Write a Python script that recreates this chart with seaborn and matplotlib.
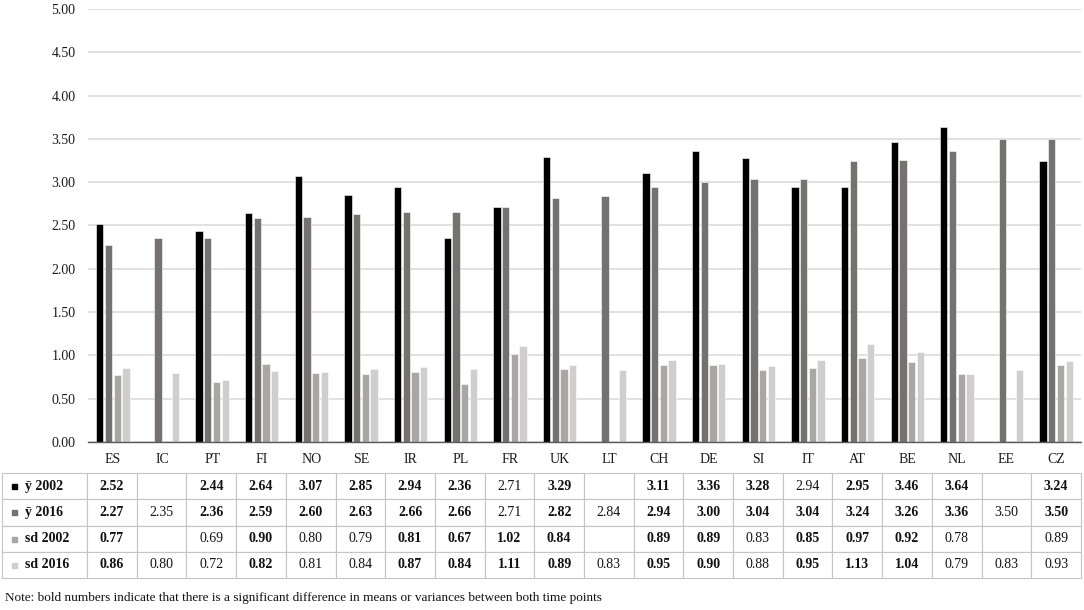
import numpy as np
import pandas as pd
import matplotlib
matplotlib.use("Agg")
import matplotlib.pyplot as plt
import seaborn as sns

countries = ["ES", "IC", "PT", "FI", "NO", "SE", "IR", "PL", "FR", "UK",
             "LT", "CH", "DE", "SI", "IT", "AT", "BE", "NL", "EE", "CZ"]
series = ["ȳ 2002", "ȳ 2016", "sd 2002", "sd 2016"]

mean_2002 = [2.52, None, 2.44, 2.64, 3.07, 2.85, 2.94, 2.36, 2.71, 3.29,
             None, 3.11, 3.36, 3.28, 2.94, 2.95, 3.46, 3.64, None, 3.24]
mean_2016 = [2.27, 2.35, 2.36, 2.59, 2.60, 2.63, 2.66, 2.66, 2.71, 2.82,
             2.84, 2.94, 3.00, 3.04, 3.04, 3.24, 3.26, 3.36, 3.50, 3.50]
sd_2002 = [0.77, None, 0.69, 0.90, 0.80, 0.79, 0.81, 0.67, 1.02, 0.84,
           None, 0.89, 0.89, 0.83, 0.85, 0.97, 0.92, 0.78, None, 0.89]
sd_2016 = [0.86, 0.80, 0.72, 0.82, 0.81, 0.84, 0.87, 0.84, 1.11, 0.89,
           0.83, 0.95, 0.90, 0.88, 0.95, 1.13, 1.04, 0.79, 0.83, 0.93]

# 1 = bold in the table (significant difference)
bold_mean_2002 = [1, 0, 1, 1, 1, 1, 1, 1, 0, 1, 0, 1, 1, 1, 0, 1, 1, 1, 0, 1]
bold_mean_2016 = [1, 0, 1, 1, 1, 1, 1, 1, 0, 1, 0, 1, 1, 1, 1, 1, 1, 1, 0, 1]
bold_sd_2002 = [1, 0, 0, 1, 0, 0, 1, 1, 1, 1, 0, 1, 1, 0, 1, 1, 1, 0, 0, 0]
bold_sd_2016 = [1, 0, 0, 1, 0, 0, 1, 1, 1, 1, 0, 1, 1, 0, 1, 1, 1, 0, 0, 0]

colors = ["#000000", "#75716f", "#aaa6a5", "#cfcdcd"]
note = ("Note: bold numbers indicate that there is a significant difference "
        "in means or variances between both time points")

all_values = [mean_2002, mean_2016, sd_2002, sd_2016]
all_bold = [bold_mean_2002, bold_mean_2016, bold_sd_2002, bold_sd_2016]

rows = []
for s, vals in zip(series, all_values):
    for c, v in zip(countries, vals):
        rows.append({"country": c, "series": s,
                     "value": np.nan if v is None else v})
df = pd.DataFrame(rows)

sns.set_style("white")
plt.rcParams["font.family"] = ["Liberation Serif", "DejaVu Serif"]

fig = plt.figure(figsize=(10.84, 6.10), dpi=100)
W, H = 1084, 610
ax = fig.add_axes([88 / W, 1 - 442 / H, 993 / W, 433 / H])

sns.barplot(data=df, x="country", y="value", hue="series",
            order=countries, hue_order=series, palette=colors,
            width=0.7, gap=0.16, edgecolor="white", linewidth=0.4,
            legend=False, ax=ax)

ax.set_ylim(0, 5)
ax.set_xlim(-0.5, len(countries) - 0.5)
ax.set_yticks(np.arange(0, 5.01, 0.5))
ax.set_yticklabels([f"{t:.2f}" for t in np.arange(0, 5.01, 0.5)])
ax.yaxis.grid(True, color="#dcdcdc", linewidth=1.2)
ax.set_axisbelow(True)
ax.tick_params(axis="y", length=0, pad=9, labelsize=10, colors="#1a1a1a")
ax.tick_params(axis="x", length=0, pad=8, labelsize=10, colors="#1a1a1a")
ax.set_xlabel("")
ax.set_ylabel("")
for side in ["left", "right", "top"]:
    ax.spines[side].set_visible(False)
ax.spines["bottom"].set_color("#595959")
ax.spines["bottom"].set_linewidth(1.0)

# data table under the chart
cell_text = []
for s, vals in zip(series, all_values):
    cell_text.append([s] + ["" if v is None else f"{v:.2f}" for v in vals])

tab_left = (2 - 88) / 993
tab_top = (442 - 473) / 433
tab_bottom = (442 - 578) / 433
tab = ax.table(cellText=cell_text, cellLoc="center",
               bbox=[tab_left, tab_bottom, 1 - tab_left, tab_top - tab_bottom])
tab.auto_set_font_size(False)
tab.set_fontsize(10)
first_w = 85 / 1079
other_w = (1 - first_w) / len(countries)
for (r, c), cell in tab.get_celld().items():
    cell.set_edgecolor("#c4c4c4")
    cell.set_linewidth(0.8)
    cell.set_width(first_w if c == 0 else other_w)
    txt = cell.get_text()
    txt.set_color("#111111")
    if c == 0:
        cell.PAD = 0.27
        txt.set_ha("left")
        cell._loc = "left"
        txt.set_fontweight("bold")
    elif all_bold[r][c - 1]:
        txt.set_fontweight("bold")

# legend keys inside the label column
row_h = (tab_top - tab_bottom) / len(series)
for i, col in enumerate(colors):
    yy = tab_top - (i + 0.5) * row_h
    ax.plot([(14 - 88) / 993], [yy], marker="s", markersize=3.6,
            color=col, transform=ax.transAxes, clip_on=False)

fig.text(5 / W, 1 - 598 / H, note, fontsize=9.5, va="center", ha="left",
         color="#111111")

fig.savefig("out.png", dpi=100)
